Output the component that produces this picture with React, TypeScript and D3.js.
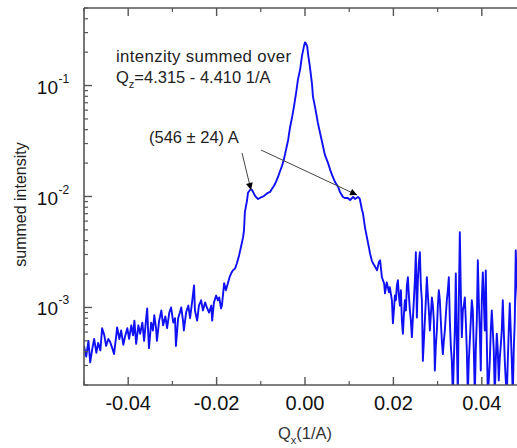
import React from "react";
import * as d3 from "d3";

// Qx (1/A) positions of the measured points
const qx: number[] = [
  -0.05, -0.0495, -0.049, -0.0486, -0.0481, -0.0477, -0.0472, -0.0468, -0.0463, -0.0459,
  -0.0454, -0.045, -0.0445, -0.0441, -0.0436, -0.0432, -0.0427, -0.0425, -0.042, -0.0416,
  -0.0411, -0.0407, -0.0402, -0.0398, -0.0393, -0.0389, -0.0386, -0.0382, -0.0377, -0.0373,
  -0.0368, -0.0364, -0.0359, -0.0357, -0.0355, -0.0353, -0.0348, -0.0344, -0.0341, -0.0337,
  -0.0335, -0.033, -0.0325, -0.0321, -0.0316, -0.0312, -0.0307, -0.0303, -0.0298, -0.0294,
  -0.0292, -0.0287, -0.0283, -0.028, -0.0276, -0.0274, -0.0269, -0.0264, -0.026, -0.0255,
  -0.0251, -0.0249, -0.0244, -0.024, -0.0235, -0.0231, -0.0226, -0.0222, -0.0217, -0.0212,
  -0.021, -0.0206, -0.0201, -0.0197, -0.0194, -0.019, -0.0188, -0.0183, -0.0179, -0.0174,
  -0.017, -0.0167, -0.0163, -0.0158, -0.0154, -0.0149, -0.0145, -0.014, -0.0138, -0.0136,
  -0.0131, -0.0129, -0.0124, -0.012, -0.0115, -0.0111, -0.0106, -0.0102, -0.0097, -0.0093,
  -0.0088, -0.0084, -0.0079, -0.0075, -0.007, -0.0066, -0.0061, -0.0057, -0.0052, -0.0048,
  -0.0043, -0.0038, -0.0034, -0.0029, -0.0025, -0.002, -0.0016, -0.0011, -0.0007, -0.0002,
  0.0, 0.0002, 0.0005, 0.0007, 0.0011, 0.0016, 0.0018, 0.0023, 0.0029, 0.0034,
  0.0041, 0.0045, 0.0052, 0.0057, 0.0063, 0.0068, 0.0075, 0.0079, 0.0086, 0.009,
  0.0097, 0.0102, 0.0109, 0.0113, 0.012, 0.0124, 0.0129, 0.0131, 0.0136, 0.014,
  0.0145, 0.0147, 0.0151, 0.0154, 0.0158, 0.0163, 0.0167, 0.017, 0.0174, 0.0179,
  0.0181, 0.0185, 0.019, 0.0192,
  0.01966, 0.01989, 0.02011, 0.02034, 0.02056, 0.02079, 0.02102, 0.02124, 0.02147, 0.0217,
  0.02192, 0.02215, 0.02237, 0.0226, 0.02282, 0.02305, 0.02328, 0.0235, 0.02373, 0.02395,
  0.02418, 0.02441, 0.02463, 0.02486, 0.02508, 0.02531, 0.02554, 0.02576, 0.02599, 0.02621,
  0.02644, 0.02667, 0.02689, 0.02712, 0.02734, 0.02757, 0.0278, 0.02802, 0.02825, 0.02847,
  0.0287, 0.02893, 0.02915, 0.02938, 0.0296, 0.02983, 0.03006, 0.03028, 0.03051, 0.03073,
  0.03096, 0.03119, 0.03141, 0.03164, 0.03186, 0.03209, 0.03232, 0.03254, 0.03277, 0.03299,
  0.03322, 0.03345, 0.03367, 0.0339, 0.03412, 0.03435, 0.03458, 0.0348, 0.03503, 0.03525,
  0.03548, 0.03571, 0.03593, 0.03616, 0.03638, 0.03661, 0.03684, 0.03706, 0.03729, 0.03751,
  0.03774, 0.03797, 0.03819, 0.03842, 0.03864, 0.03887, 0.0391, 0.03932, 0.03955, 0.03977,
  0.04, 0.04023, 0.04045, 0.04068, 0.0409, 0.04113, 0.04136, 0.04158, 0.04181, 0.04203,
  0.04226, 0.04249, 0.04271, 0.04294, 0.04316, 0.04339, 0.04362, 0.04384, 0.04407, 0.04429,
  0.04452, 0.04475, 0.04497, 0.0452, 0.04542, 0.04565, 0.04588, 0.0461, 0.04633, 0.04655,
  0.04678, 0.04701, 0.04723, 0.04746, 0.04768, 0.04791, 0.04814, 0.04859, 0.04904, 0.05,
];

// summed intensity at each Qx
const intensity: number[] = [
  0.00045, 0.00036, 0.0005, 0.00032, 0.00043, 0.00052, 0.00039, 0.00048, 0.00041, 0.00065,
  0.00056, 0.00045, 0.00052, 0.00049, 0.00043, 0.00038, 0.00056, 0.00066, 0.00052, 0.00062,
  0.00046, 0.00055, 0.00065, 0.00052, 0.00069, 0.00056, 0.00076, 0.00047, 0.00069, 0.00058,
  0.00073, 0.0005, 0.00083, 0.00098, 0.00062, 0.00043, 0.00073, 0.00062, 0.00085, 0.00065,
  0.0005, 0.00076, 0.00094, 0.00069, 0.00083, 0.00065, 0.0009, 0.001, 0.00073, 0.0008,
  0.00045, 0.0008, 0.0009, 0.001, 0.00076, 0.00062, 0.0009, 0.00104, 0.0008, 0.00116,
  0.00158, 0.00094, 0.00076, 0.00104, 0.00116, 0.00094, 0.00111, 0.001, 0.0009, 0.00104,
  0.00076, 0.00111, 0.00128, 0.00116, 0.00123, 0.00098, 0.00104, 0.00165, 0.00143, 0.00168,
  0.00191, 0.00203, 0.00216, 0.00225, 0.0025, 0.00296, 0.00349, 0.0043, 0.00498, 0.00724,
  0.0093, 0.0108, 0.0115, 0.0115, 0.0105, 0.0099, 0.0095, 0.0097, 0.0099, 0.0101,
  0.0105, 0.0108, 0.011, 0.0117, 0.0125, 0.0135, 0.015, 0.0167, 0.0189, 0.0214,
  0.0263, 0.0325, 0.0417, 0.0524, 0.0646, 0.0864, 0.113, 0.14, 0.183, 0.23,
  0.245, 0.24, 0.225, 0.191, 0.149, 0.102, 0.0795, 0.0632, 0.0463, 0.0376,
  0.0281, 0.0237, 0.0201, 0.0174, 0.015, 0.0135, 0.0122, 0.011, 0.0099, 0.0097,
  0.0097, 0.0093, 0.0099, 0.0095, 0.0099, 0.0095, 0.00755, 0.00709, 0.00519, 0.0043,
  0.00342, 0.00308, 0.00266, 0.0025, 0.00235, 0.00216, 0.00255, 0.00266, 0.00187, 0.00165,
  0.00134, 0.00168, 0.00137, 0.00152,
  0.00116, 0.00072, 0.00094, 0.00128, 0.00116, 0.00158, 0.00176, 0.00128, 0.00104, 0.00143,
  0.00076, 0.00058, 0.00085, 0.00116, 0.00094, 0.00158, 0.00187, 0.00128, 0.00094, 0.00076,
  0.00054, 0.0008, 0.00116, 0.00176, 0.00315, 0.00081, 0.00176, 0.00255, 0.00315, 0.00158,
  0.00116, 0.00033, 0.0005, 0.00076, 0.00116, 0.00187, 0.00128, 0.00094, 0.00062, 0.00085,
  0.00123, 0.00104, 0.00076, 0.00027, 0.00045, 0.00062, 0.00104, 0.00143, 0.00116, 0.00076,
  0.0005, 0.00038, 0.0005, 0.00062, 0.00085, 0.00116, 0.00143, 0.00187, 0.00076, 0.00045,
  0.00033, 0.00016, 0.00033, 0.00062, 0.00203, 0.0005, 0.00016, 0.00116, 0.00477, 0.00143,
  0.00054, 0.00094, 0.00104, 0.00123, 0.00076, 0.00041, 0.00016, 0.00033, 0.0005, 0.00076,
  0.00116, 0.00094, 0.00041, 0.00016, 0.00041, 0.00076, 0.00266, 0.00116, 0.00062, 0.00027,
  0.00116, 0.00207, 0.00116, 0.00062, 0.00216, 0.0005, 0.00016, 0.00022, 0.00033, 0.00062,
  0.00094, 0.00062, 0.00041, 0.00016, 0.00033, 0.00058, 0.00041, 0.00022, 0.00035, 0.00045,
  0.00062, 0.00116, 0.00062, 0.00033, 0.00022, 0.00016, 0.00033, 0.00062, 0.00109, 0.00062,
  0.00033, 0.00016, 0.00041, 0.00076, 0.00328, 0.00176, 0.00116, 0.00016, 0.00062, 0.00041,
];

const xMajorTicks = [-0.04, -0.02, 0.0, 0.02, 0.04];
const xMinorTicks = [-0.05, -0.03, -0.01, 0.01, 0.03, 0.05];
const yMajorTicks = [1e-3, 1e-2, 1e-1];
const yMajorExp = ["-3", "-2", "-1"];
const yMinorTicks = [
  2e-4, 3e-4, 4e-4, 5e-4, 6e-4, 7e-4, 8e-4, 9e-4,
  2e-3, 3e-3, 4e-3, 5e-3, 6e-3, 7e-3, 8e-3, 9e-3,
  2e-2, 3e-2, 4e-2, 5e-2, 6e-2, 7e-2, 8e-2, 9e-2,
  2e-1, 3e-1, 4e-1, 5e-1,
];

const W = 517;
const H = 448;
const left = 84;
const right = 526;
const top = 8;
const bottom = 385;
const FONT = "'Liberation Sans', Arial, sans-serif";
const AXIS = "#555";

export default function App() {
  const x = d3.scaleLinear().domain([-0.05, 0.05]).range([left, right]);
  const y = d3.scaleLog().domain([2e-4, 0.5]).range([bottom, top]);
  const pts: [number, number][] = qx.map((q, i) => [q, intensity[i]]);
  const line = d3
    .line<[number, number]>()
    .x((d) => x(d[0]))
    .y((d) => y(d[1]));

  return (
    <svg
      width={W}
      height={H}
      style={{ position: "fixed", left: 0, top: 0, background: "#fff" }}
      fontFamily={FONT}
    >
      <defs>
        <clipPath id="plot">
          <rect x={left} y={top} width={right - left} height={bottom - top} />
        </clipPath>
        <marker
          id="arr"
          viewBox="0 0 10 10"
          refX="10"
          refY="5"
          markerWidth="9"
          markerHeight="7"
          markerUnits="userSpaceOnUse"
          orient="auto"
        >
          <path d="M0,0 L10,5 L0,10 z" fill="#000" />
        </marker>
      </defs>
      <rect x={0} y={0} width={W} height={H} fill="#fff" />

      <path
        d={line(pts) || ""}
        fill="none"
        stroke="#1010f5"
        strokeWidth={1.9}
        strokeLinejoin="round"
        clipPath="url(#plot)"
      />

      {/* frame */}
      <path
        d={`M${left},${top} H${right} M${left},${top} V${bottom} H${right}`}
        fill="none"
        stroke={AXIS}
        strokeWidth={1.6}
      />

      {/* x ticks */}
      {xMajorTicks.map((t) => (
        <g key={"xm" + t}>
          <line x1={x(t)} x2={x(t)} y1={bottom} y2={bottom - 8} stroke={AXIS} strokeWidth={1.4} />
          <line x1={x(t)} x2={x(t)} y1={top} y2={top + 8} stroke={AXIS} strokeWidth={1.4} />
          <text x={x(t)} y={410} fontSize={20} textAnchor="middle" fill="#111">
            {t.toFixed(2)}
          </text>
        </g>
      ))}
      {xMinorTicks.map((t) => (
        <g key={"xn" + t}>
          <line x1={x(t)} x2={x(t)} y1={bottom} y2={bottom - 4} stroke={AXIS} strokeWidth={1.2} />
          <line x1={x(t)} x2={x(t)} y1={top} y2={top + 4} stroke={AXIS} strokeWidth={1.2} />
        </g>
      ))}

      {/* y ticks */}
      {yMajorTicks.map((t, i) => (
        <g key={"ym" + t}>
          <line x1={left} x2={left + 8} y1={y(t)} y2={y(t)} stroke={AXIS} strokeWidth={1.4} />
          <text x={58} y={y(t) + 8} fontSize={19} textAnchor="end" fill="#111">
            10
          </text>
          <text x={58.5} y={y(t) - 3} fontSize={12} textAnchor="start" fill="#111">
            {yMajorExp[i]}
          </text>
        </g>
      ))}
      {yMinorTicks.map((t) => (
        <line key={"yn" + t} x1={left} x2={left + 4} y1={y(t)} y2={y(t)} stroke={AXIS} strokeWidth={1.2} />
      ))}

      {/* axis titles */}
      <text
        transform={`translate(26,${(top + bottom) / 2 + 8}) rotate(-90)`}
        fontSize={16}
        textAnchor="middle"
        fill="#222"
      >
        summed intensity
      </text>
      <text x={278} y={439} fontSize={16.5} fill="#333">
        Q<tspan fontSize={11} dy={5}>x</tspan>
        <tspan dy={-5}>(1/A)</tspan>
      </text>

      {/* annotations */}
      <text x={116} y={62} fontSize={16.8} fill="#222" textLength={175} lengthAdjust="spacing">
        intenzity summed over
      </text>
      <text x={116} y={83} fontSize={16.5} fill="#222">
        Q<tspan fontSize={11} dy={5}>z</tspan>
        <tspan dy={-5}>=4.315 - 4.410 1/A</tspan>
      </text>
      <text x={149} y={143} fontSize={16.5} fill="#222">
        (546 ± 24) A
      </text>
      <line x1={242} y1={153} x2={251} y2={190} stroke="#444" strokeWidth={1} markerEnd="url(#arr)" />
      <line x1={261} y1={150} x2={357} y2={195} stroke="#444" strokeWidth={1} markerEnd="url(#arr)" />
    </svg>
  );
}
